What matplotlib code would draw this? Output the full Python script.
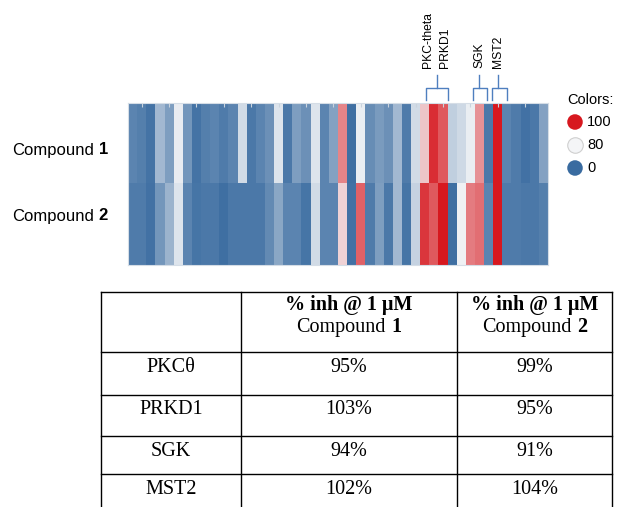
import matplotlib.pyplot as plt
import numpy as np
from matplotlib.colors import LinearSegmentedColormap
from matplotlib.offsetbox import TextArea, HPacker, AnnotationBbox

plt.rcParams['font.family'] = ['Liberation Sans', 'DejaVu Sans']

# % inhibition for each kinase column of the heatmap
compound1 = [15, 12, 5, 45, 30, 75, 25, 5, 12, 15, 10, 15, 65, 8, 15, 22, 70, 8, 30, 22, 70, 15, 32,
             90, 3, 76, 20, 28, 22, 45, 10, 65, 84, 98, 94, 58, 64, 76, 89, 8, 100, 15, 10, 4, 8, 32]
compound2 = [10, 10, 4, 25, 42, 70, 15, 6, 8, 8, 3, 8, 8, 8, 8, 18, 35, 15, 15, 6, 65, 15, 15,
             83, 4, 93, 10, 30, 8, 45, 6, 60, 97, 94, 100, 3, 78, 91, 92, 15, 100, 10, 10, 8, 8, 12]
row_names = ['1', '2']

# labelled kinases above the heatmap (column positions)
kinase_labels = ['PKC-theta', 'PRKD1', 'SGK', 'MST2']
kinase_cols = [32.4, 34.2, 38.0, 40.0]
brackets = [(32.1, 33.3, 34.5), (37.25, 37.95, 38.85), (39.4, 40.05, 41.0)]

legend_vals = [100, 80, 0]

# table
table_kinases = ['PKC\u03b8', 'PRKD1', 'SGK', 'MST2']
table_c1 = [95, 103, 94, 102]
table_c2 = [99, 95, 91, 104]

W, H = 617, 507
fig = plt.figure(figsize=(W / 100, H / 100), dpi=100)

cmap = LinearSegmentedColormap.from_list(
    'bwr_kin', [(0.0, '#396ba0'), (0.8, '#f4f5f7'), (1.0, '#d7181f')])

# heatmap
ax = fig.add_axes([128 / W, 1 - 265 / H, 420 / W, 162 / H])
data = np.array([compound1, compound2])
ax.imshow(data, cmap=cmap, vmin=0, vmax=100, aspect='auto', interpolation='nearest')
ax.set_yticks([])
ax.set_xticks(np.arange(1, data.shape[1], 3))
ax.xaxis.tick_top()
ax.tick_params(axis='x', direction='in', length=3, color='#c9d3dd', labeltop=False, labelbottom=False)
for s in ax.spines.values():
    s.set_color('#d5dde6')
    s.set_linewidth(0.8)

px = 1 / 81  # one pixel in row units
y_leg = -0.5 - 3 * px
y_bar = -0.5 - 15 * px
y_tip = -0.5 - 28 * px
for x0, xc, x1 in brackets:
    ax.plot([x0, x0, xc, xc], [y_leg, y_bar, y_bar, y_tip], color='#4f7fbf', lw=1, clip_on=False)
    ax.plot([xc, x1, x1], [y_bar, y_bar, y_leg], color='#4f7fbf', lw=1, clip_on=False)
for lab, c in zip(kinase_labels, kinase_cols):
    ax.text(c, -0.5 - 35 * px, lab, rotation=90, ha='center', va='bottom', fontsize=8.7)
ax.set_xlim(-0.5, data.shape[1] - 0.5)
ax.set_ylim(1.5, -0.5)

# canvas in pixel coordinates for labels, legend and table
cv = fig.add_axes([0, 0, 1, 1], facecolor='none')
cv.set_xlim(0, W)
cv.set_ylim(H, 0)
cv.axis('off')


def two_part(x, y, a, b, family, size, align=(0.5, 0.5)):
    ta = TextArea(a, textprops=dict(family=family, fontsize=size))
    tb = TextArea(b, textprops=dict(family=family, fontsize=size, fontweight='bold'))
    box = HPacker(children=[ta, tb], align='baseline', pad=0, sep=size * 0.28)
    ab = AnnotationBbox(box, (x, y), xycoords='data', frameon=False, box_alignment=align, pad=0)
    cv.add_artist(ab)


for i, r in enumerate(row_names):
    two_part(12, [150, 216][i], 'Compound', r, 'Liberation Sans', 12, align=(0, 0.5))

# legend
cv.text(567, 100, 'Colors:', fontsize=10.5, va='center', ha='left')
for i, v in enumerate(legend_vals):
    yy = 122 + 23 * i
    cv.scatter([575], [yy], s=125, color=cmap(v / 100), edgecolor='#cfcfcf' if v == 80 else 'none',
               linewidth=0.8, clip_on=False)
    cv.text(587, yy, str(v), fontsize=10.5, va='center', ha='left')

# table
col_edges = [101, 241, 457, 612]
row_edges = [292, 352, 395, 436, 474]
for y in row_edges:
    cv.plot([col_edges[0], col_edges[-1]], [y, y], color='black', lw=1)
for x in col_edges:
    cv.plot([x, x], [row_edges[0], H + 5], color='black', lw=1)
cv.set_xlim(0, W)
cv.set_ylim(H, 0)

serif = 'Liberation Serif'
tsize = 14.5
cx = [(col_edges[k] + col_edges[k + 1]) / 2 for k in range(3)]
for k, name in enumerate(row_names):
    cv.text(cx[k + 1], 305, '% inh @ 1 \u03bcM', family=serif, fontsize=tsize, fontweight='bold',
            ha='center', va='center')
    two_part(cx[k + 1], 327, 'Compound', name, serif, tsize)
for i, kin in enumerate(table_kinases):
    yy = row_edges[i + 1] + 15
    cv.text(cx[0], yy, kin, family=serif, fontsize=tsize, ha='center', va='center')
    cv.text(cx[1], yy, f'{table_c1[i]}%', family=serif, fontsize=tsize, ha='center', va='center')
    cv.text(cx[2], yy, f'{table_c2[i]}%', family=serif, fontsize=tsize, ha='center', va='center')

fig.savefig('out.png', dpi=100)
